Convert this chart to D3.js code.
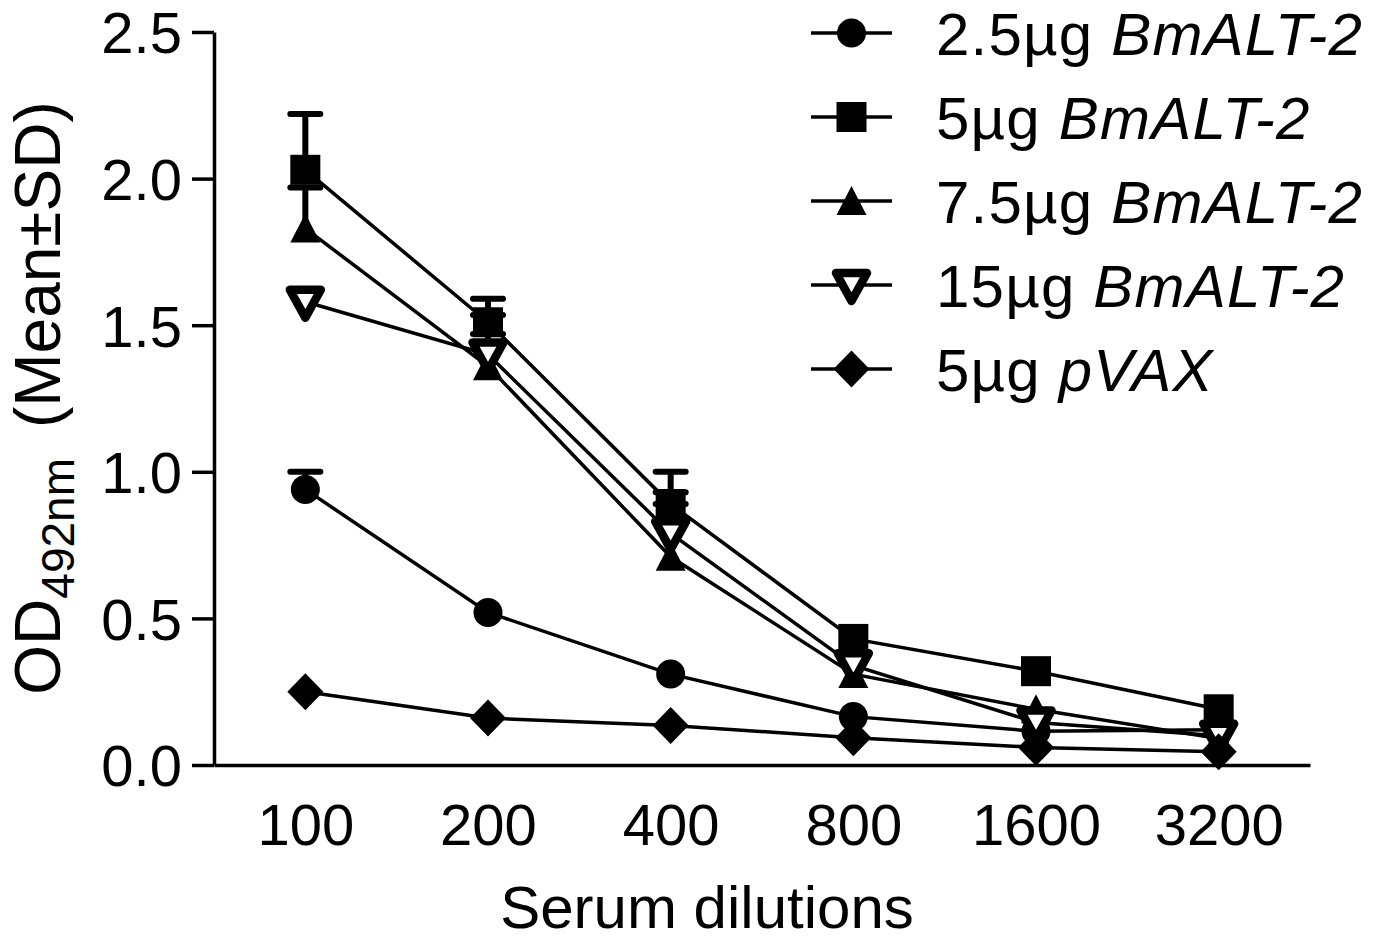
<!DOCTYPE html>
<html lang="en">
<head>
<meta charset="UTF-8">
<title>Serum dilutions</title>
<style>
  body { margin: 0; background: #fff; }
  svg text { font-family: "Liberation Sans", Arial, sans-serif; fill: #000; }
  .axis path, .axis line { stroke: #000; stroke-width: 3.5; fill: none; }
  .axis text { font-size: 58px; }
</style>
</head>
<body>
<svg width="1378" height="941"></svg>
<script src="https://d3js.org/d3.v7.min.js"></script>
<script>

var dilutions = ["100", "200", "400", "800", "1600", "3200"];
var yTicks = [0, 0.5, 1.0, 1.5, 2.0, 2.5];

// means and SD (upper bars only)
var mean25 = [0.94, 0.52, 0.31, 0.165, 0.115, 0.12];
var sd25   = [0.06, 0, 0, 0, 0, 0];
var mean5  = [2.03, 1.51, 0.89, 0.43, 0.32, 0.19];
var sd5    = [0.19, 0.08, 0.11, 0, 0, 0];
var mean75 = [1.83, 1.36, 0.71, 0.31, 0.19, 0.09];
var sd75   = [0.14, 0.175, 0.18, 0, 0, 0];
var mean15 = [1.58, 1.40, 0.79, 0.34, 0.145, 0.10];
var sd15   = [0, 0.07, 0.14, 0, 0, 0];
var meanVax = [0.25, 0.16, 0.135, 0.093, 0.06, 0.045];
var sdVax   = [0, 0, 0, 0, 0, 0];

var labels = [
  ["2.5µg ", "BmALT-2"],
  ["5µg ", "BmALT-2"],
  ["7.5µg ", "BmALT-2"],
  ["15µg ", "BmALT-2"],
  ["5µg ", "pVAX"]
];
var series = [
  {mean: mean25, sd: sd25, shape: "circle"},
  {mean: mean5, sd: sd5, shape: "square"},
  {mean: mean75, sd: sd75, shape: "triangle"},
  {mean: mean15, sd: sd15, shape: "triangleDown"},
  {mean: meanVax, sd: sdVax, shape: "diamond"}
];

var svg = d3.select("svg");

var x = d3.scalePoint().domain(dilutions).range([214, 1310]).padding(0.5);
var y = d3.scaleLinear().domain([0, 2.5]).range([765, 32]);

// markers
function marker(sel, shape) {
  if (shape === "circle") {
    sel.append("circle").attr("r", 14.5).attr("fill", "#000");
  } else if (shape === "square") {
    sel.append("rect").attr("x", -15).attr("y", -15).attr("width", 30).attr("height", 30).attr("fill", "#000");
  } else if (shape === "triangle") {
    sel.append("path").attr("d", "M0,-15L15,14L-15,14Z").attr("fill", "#000");
  } else if (shape === "triangleDown") {
    sel.append("path").attr("d", "M-15.5,-12L15.5,-12L0,16Z")
      .attr("fill", "#fff").attr("stroke", "#000")
      .attr("stroke-width", 8.5).attr("stroke-linejoin", "round");
  } else if (shape === "diamond") {
    sel.append("path").attr("d", "M0,-18.5L18,0L0,18.5L-18,0Z").attr("fill", "#000");
  }
}

// axes
svg.append("g")
    .attr("class", "axis")
    .attr("transform", "translate(214,0)")
    .call(d3.axisLeft(y).tickValues(yTicks).tickFormat(d3.format(".1f"))
      .tickSize(22).tickSizeOuter(0).tickPadding(10))
    .selectAll("text").attr("dy", "0.36em");

svg.append("g")
    .attr("class", "axis")
    .attr("transform", "translate(0,765)")
    .call(d3.axisBottom(x).tickSize(0).tickSizeOuter(0).tickPadding(39))
    .selectAll("text").attr("dy", "0.71em");

var line = d3.line()
    .x(function(d, i) { return x(dilutions[i]); })
    .y(function(d) { return y(d); });

series.forEach(function(s) {
  var g = svg.append("g");
  // error bars
  s.mean.forEach(function(m, i) {
    if (!s.sd[i]) return;
    var cx = x(dilutions[i]);
    g.append("line").attr("x1", cx).attr("x2", cx)
      .attr("y1", y(m)).attr("y2", y(m + s.sd[i]))
      .attr("stroke", "#000").attr("stroke-width", 6);
    g.append("line").attr("x1", cx - 15).attr("x2", cx + 15)
      .attr("y1", y(m + s.sd[i])).attr("y2", y(m + s.sd[i]))
      .attr("stroke", "#000").attr("stroke-width", 6).attr("stroke-linecap", "round");
  });
  g.append("path").datum(s.mean)
    .attr("d", line).attr("fill", "none")
    .attr("stroke", "#000").attr("stroke-width", 3.5);
  g.selectAll(".pt").data(s.mean).enter().append("g")
    .attr("class", "pt")
    .attr("transform", function(d, i) { return "translate(" + x(dilutions[i]) + "," + y(d) + ")"; })
    .each(function() { marker(d3.select(this), s.shape); });
});

// legend
var legend = svg.append("g");
series.forEach(function(s, i) {
  var ly = 33 + i * 84;
  var row = legend.append("g").attr("transform", "translate(0," + ly + ")");
  row.append("line").attr("x1", 811).attr("x2", 892).attr("y1", 0).attr("y2", 0)
    .attr("stroke", "#000").attr("stroke-width", 3.5);
  marker(row.append("g").attr("transform", "translate(851.5,0)"), s.shape);
  var t = row.append("text").attr("x", 936).attr("y", 22)
    .style("font-size", "60px").style("letter-spacing", "1.2px");
  t.append("tspan").text(labels[i][0]);
  t.append("tspan").style("font-style", "italic").text(labels[i][1]);
});

// axis titles
svg.append("text")
    .attr("x", 707).attr("y", 928)
    .attr("text-anchor", "middle")
    .style("font-size", "60px")
    .text("Serum dilutions");

var yt = svg.append("text")
    .attr("transform", "translate(60,398) rotate(-90)")
    .attr("text-anchor", "middle")
    .style("font-size", "64px");
yt.append("tspan").text("OD");
yt.append("tspan").attr("dy", 14).style("font-size", "46px").text("492nm");
yt.append("tspan").attr("dy", -14).attr("dx", 30).text("(Mean±SD)");

</script>
</body>
</html>
